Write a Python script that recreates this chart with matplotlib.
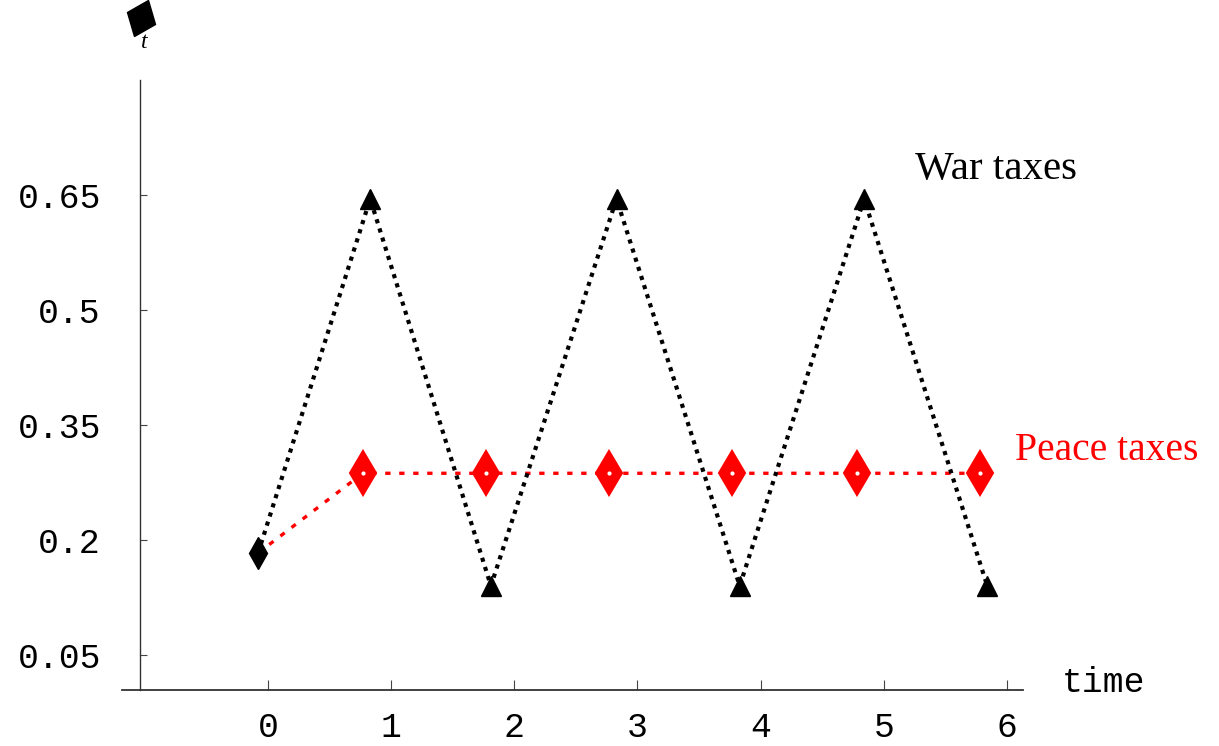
import matplotlib.pyplot as plt
from matplotlib.markers import MarkerStyle
from matplotlib.transforms import Affine2D

# values
war_time = [-0.08, 0.83, 1.81, 2.83, 3.83, 4.84, 5.84]
war_tax = [0.183, 0.645, 0.140, 0.645, 0.140, 0.645, 0.140]
peace_time = [-0.08, 0.77, 1.77, 2.77, 3.77, 4.78, 5.78]
peace_tax = [0.183, 0.287, 0.287, 0.287, 0.287, 0.287, 0.287]
xticks = [0, 1, 2, 3, 4, 5, 6]
yticks = [0.05, 0.2, 0.35, 0.5, 0.65]
ytick_labels = ['0.05', '0.2', '0.35', '0.5', '0.65']

W, H = 1219, 746
fig = plt.figure(figsize=(W / 100, H / 100), dpi=100)
ax = fig.add_axes([122 / W, 1 - 690 / H, (1023 - 122) / W, (690 - 80) / H])
ax.set_xlim(-1.185, 6.13)
ax.set_ylim(0.0043, 0.80)

mono = 'Liberation Mono'
serif = 'Liberation Serif'

# peace taxes (red, dashed)
ax.plot(peace_time, peace_tax, color='red', lw=2.4, linestyle=(0, (1.6, 2.6)),
        dash_capstyle='butt', zorder=2)
ax.plot(peace_time[1:], peace_tax[1:], 'd', color='red', ms=22, mec='red', mew=1.5,
        clip_on=False, zorder=3)
ax.plot(peace_time[1:], peace_tax[1:], 'o', color='white', ms=3, mec='none',
        clip_on=False, zorder=4)

# war taxes (black, dotted)
ax.plot(war_time, war_tax, color='black', lw=3.0, linestyle=(0, (1.0, 1.3)),
        dash_capstyle='butt', zorder=5)
ax.plot(war_time[1:], war_tax[1:], '^', color='black', ms=14,
        clip_on=False, zorder=6)
ax.plot(war_time[:1], war_tax[:1], 'd', color='black', ms=16,
        clip_on=False, zorder=6)

# Mathematica-like axes
for s in ['top', 'right']:
    ax.spines[s].set_visible(False)
ax.spines['left'].set_position(('data', -1.04))
ax.spines['left'].set_color('#333333')
ax.spines['bottom'].set_color('#333333')
ax.spines['left'].set_linewidth(1.0)
ax.spines['bottom'].set_linewidth(1.3)

ax.set_xticks(xticks)
ax.set_xticklabels([str(v) for v in xticks], fontfamily=mono, fontsize=25)
ax.set_yticks(yticks)
ax.set_yticklabels(ytick_labels, fontfamily=mono, fontsize=25)
ax.tick_params(axis='x', direction='in', length=7, width=0.8, color='#444444', pad=15)
ax.tick_params(axis='y', direction='in', length=5, width=0.8, color='#444444', pad=28)

ax.text(1062 / W, 1 - 683 / H, 'time', transform=fig.transFigure, fontfamily=mono,
        fontsize=25, va='center', ha='left')
ax.text(915 / W, 1 - 170 / H, 'War taxes', transform=fig.transFigure, fontfamily=serif,
        fontsize=29.5, va='center', ha='left', color='black')
ax.text(1015 / W, 1 - 451 / H, 'Peace taxes', transform=fig.transFigure, fontfamily=serif,
        fontsize=28.5, va='center', ha='left', color='red')

# axis label: a slanted diamond with subscript t
tilted = MarkerStyle('d', transform=Affine2D().scale(1.25, 1.0).rotate_deg(-22))
fig.add_artist(plt.Line2D([141 / W], [1 - 18 / H], marker=tilted, ms=20, color='black',
                          transform=fig.transFigure))
fig.text(144 / W, 1 - 43 / H, 't', fontsize=17, style='italic', ha='center',
         va='center', family=serif, zorder=5)

fig.savefig('out.png', dpi=100)
